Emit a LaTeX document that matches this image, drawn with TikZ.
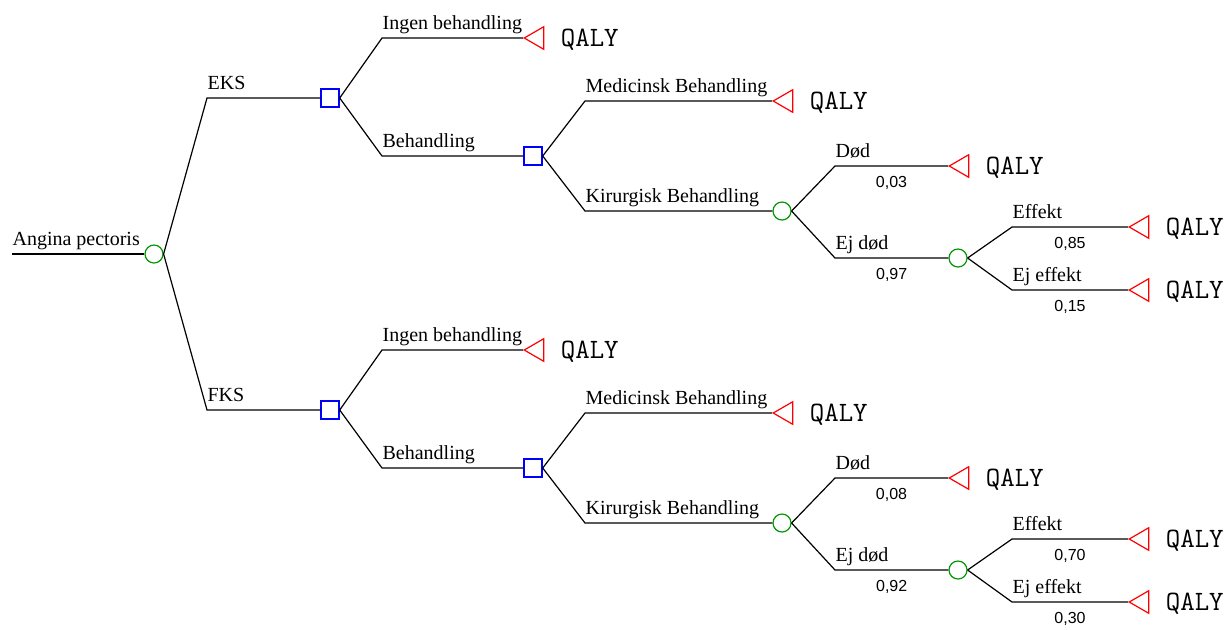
\documentclass[tikz,border=0pt]{standalone}
\usepackage{fontspec}
\setmainfont{Liberation Serif}
\newfontfamily\probfont{Liberation Sans}
\usetikzlibrary{shapes.geometric, positioning}

\definecolor{chancegreen}{RGB}{0,150,0}

\tikzset{
  chance/.style={circle, draw=chancegreen, line width=.6pt, minimum size=9pt, inner sep=0pt},
  decision/.style={rectangle, draw=blue, line width=.7pt, minimum size=9pt, inner sep=0pt},
  terminal/.style={regular polygon, regular polygon sides=3, shape border rotate=90, draw=red, line width=.6pt, minimum size=13pt, inner sep=0pt},
  lbl/.style={anchor=base west, inner sep=0pt, yshift=4.5pt, font=\fontsize{10}{12}\selectfont},
  prob/.style={below=5pt, inner sep=0pt, font=\probfont\fontsize{8}{9}\selectfont},
  qaly/.style={inner sep=0pt, yshift=-1pt, font=\ttfamily\fontsize{14}{16}\selectfont},
}

\begin{document}
\begin{tikzpicture}[x=.5pt, y=-.5pt, line width=.6pt]
\useasboundingbox (0,0) rectangle (1224,629);

\coordinate (start) at (12,254);
\node[chance] (root) at (154,254) {};
\draw (start) -- node[lbl, pos=0] (title) {Angina pectoris} (root);

\foreach \s/\yy/\arm/\pd/\pn/\pe/\pu in {a/0/EKS/{0,03}/{0,97}/{0,85}/{0,15}, b/312/FKS/{0,08}/{0,92}/{0,70}/{0,30}}{
\begin{scope}[shift={(0,\yy)}]
  \coordinate (\s-arm) at (207,98);
  \node[decision] (\s-sq1) at (330,98) {};
  \draw (root.east) -- (\s-arm) -- node[lbl, pos=0] (\s-l0) {\arm} (\s-sq1);

  % behandling eller ej
  \coordinate (\s-ingen) at (382,38);
  \coordinate (\s-beh) at (382,156);
  \node[terminal, anchor=west] (\s-t1) at (523,38) {};
  \node[decision] (\s-sq2) at (533,156) {};
  \draw (\s-sq1.east) -- (\s-ingen) -- node[lbl, pos=0] (\s-l1) {Ingen behandling} (\s-t1);
  \draw (\s-sq1.east) -- (\s-beh) -- node[lbl, pos=0] (\s-l2) {Behandling} (\s-sq2);

  % type af behandling
  \coordinate (\s-med) at (585,101);
  \coordinate (\s-kir) at (585,211);
  \node[terminal, anchor=west] (\s-t2) at (772,101) {};
  \node[chance] (\s-c1) at (782,211) {};
  \draw (\s-sq2.east) -- (\s-med) -- node[lbl, pos=0] (\s-l3) {Medicinsk Behandling} (\s-t2);
  \draw (\s-sq2.east) -- (\s-kir) -- node[lbl, pos=0] (\s-l4) {Kirurgisk Behandling} (\s-c1);

  % operation
  \coordinate (\s-dod) at (835,166);
  \coordinate (\s-ejdod) at (835,258);
  \node[terminal, anchor=west] (\s-t3) at (948,166) {};
  \node[chance] (\s-c2) at (958,258) {};
  \draw (\s-c1.east) -- (\s-dod) -- node[lbl, pos=0] (\s-l5) {Død} node[prob] (\s-p1) {\pd} (\s-t3);
  \draw (\s-c1.east) -- (\s-ejdod) -- node[lbl, pos=0] (\s-l6) {Ej død} node[prob] (\s-p2) {\pn} (\s-c2);

  % effekt
  \coordinate (\s-eff) at (1012,227);
  \coordinate (\s-ejeff) at (1012,290);
  \node[terminal, anchor=west] (\s-t4) at (1128,227) {};
  \node[terminal, anchor=west] (\s-t5) at (1128,290) {};
  \draw (\s-c2.east) -- (\s-eff) -- node[lbl, pos=0] (\s-l7) {Effekt} node[prob] (\s-p3) {\pe} (\s-t4);
  \draw (\s-c2.east) -- (\s-ejeff) -- node[lbl, pos=0] (\s-l8) {Ej effekt} node[prob] (\s-p4) {\pu} (\s-t5);

  \foreach \t in {1,...,5}
    \node[qaly, right=8pt of \s-t\t] (\s-q\t) {QALY};
\end{scope}
}

\end{tikzpicture}
\end{document}
